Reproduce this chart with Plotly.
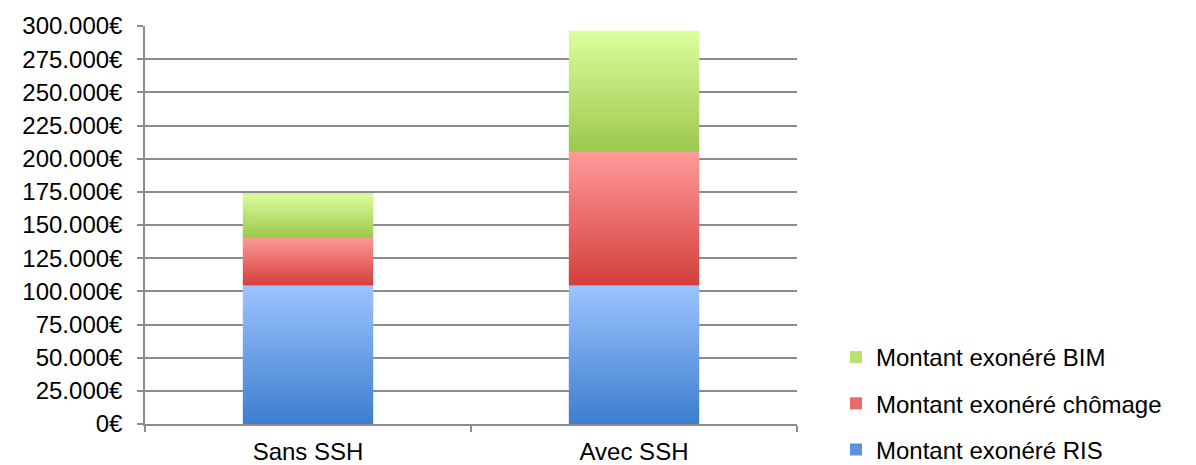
import plotly.graph_objects as go

# Categories and stacked amounts (euros)
categories = ["Sans SSH", "Avec SSH"]
ris = [104500, 104500]
chomage = [36300, 100700]
bim = [33000, 91200]

series_names = ["Montant exonéré RIS", "Montant exonéré chômage", "Montant exonéré BIM"]
series_values = [ris, chomage, bim]
legend_ranks = [3, 2, 1]

y_ticks = list(range(0, 300001, 25000))
y_ticktext = ["0€"] + [f"{v // 1000}.000€" for v in y_ticks[1:]]

# (top colour, bottom colour) of each series' vertical gradient
series_colors = [
    ("#9dc3ff", "#3c7ecf"),
    ("#ff9a99", "#d33f3d"),
    ("#dbfe9e", "#9cc84c"),
]
legend_colors = ["#5b93e0", "#e66a68", "#b9e26f"]

BAR_WIDTH = 0.4
x_pos = list(range(len(categories)))

fig = go.Figure()

# Stacked bars carrying the values and legend entries
for name, vals, col, rank in zip(series_names, series_values, legend_colors, legend_ranks):
    fig.add_trace(go.Bar(
        x=x_pos, y=vals, name=name, width=BAR_WIDTH,
        marker=dict(color=col, line=dict(width=0)),
        legendgroup=name, legendrank=rank,
    ))

# Gradient shading of each stacked segment
bases = [0] * len(categories)
for name, vals, (top_c, bot_c), rank in zip(series_names, series_values, series_colors, legend_ranks):
    for i, v in enumerate(vals):
        b, t = bases[i], bases[i] + v
        x0, x1 = x_pos[i] - BAR_WIDTH / 2, x_pos[i] + BAR_WIDTH / 2
        fig.add_trace(go.Scatter(
            x=[x0, x1, x1, x0, x0], y=[b, b, t, t, b],
            mode="lines", fill="toself", line=dict(width=0),
            fillgradient=dict(type="vertical",
                              colorscale=[[0, bot_c], [1, top_c]],
                              start=b, stop=t),
            hoverinfo="skip", showlegend=False,
            legendgroup=name, legendrank=rank,
        ))
        bases[i] = t

axis_grey = "#8c8c8c"

fig.update_layout(
    width=1196, height=465,
    margin=dict(l=145, r=399, t=26, b=41, autoexpand=False),
    paper_bgcolor="white", plot_bgcolor="white",
    barmode="stack",
    font=dict(family="Liberation Sans, Arial, sans-serif", size=24, color="#000000"),
    showlegend=True,
    legend=dict(
        traceorder="grouped", tracegroupgap=12,
        xref="container", yref="container",
        x=0.699, xanchor="left", y=0.2796, yanchor="top",
        font=dict(size=24), bgcolor="rgba(0,0,0,0)",
        itemclick=False,
    ),
    xaxis=dict(
        range=[-0.5, 1.5], tickvals=x_pos, ticktext=categories,
        ticks="", showgrid=False, zeroline=False,
        showline=True, linecolor=axis_grey, linewidth=1.5,
        ticklabelstandoff=5, automargin=False,
        minor=dict(tickvals=[-0.5, 0.5, 1.5], ticks="outside",
                   ticklen=6, tickcolor=axis_grey, tickwidth=1.5, showgrid=False),
        fixedrange=True,
    ),
    yaxis=dict(
        range=[0, 300000], tickvals=y_ticks, ticktext=y_ticktext,
        showgrid=True, gridcolor=axis_grey, gridwidth=1.5,
        zeroline=False, showline=True, linecolor=axis_grey, linewidth=1.5,
        ticks="outside", ticklen=6, tickcolor=axis_grey, tickwidth=1.5,
        ticklabelstandoff=10, automargin=False,
        fixedrange=True,
    ),
)

fig.write_html("out.html")
